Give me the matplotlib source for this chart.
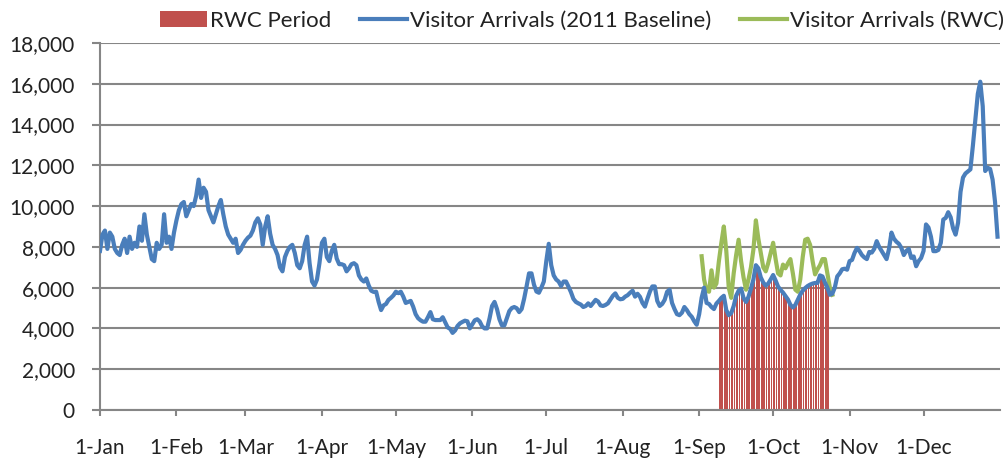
import matplotlib
matplotlib.use('Agg')
import matplotlib.pyplot as plt
from matplotlib.ticker import FuncFormatter
import numpy as np
import pandas as pd

plt.rcParams['font.family'] = ['Lato', 'DejaVu Sans']

# daily visitor arrivals, 2011 baseline (by month)
jan = [7800, 8600, 8800, 7900, 8700, 8500, 7900, 7700, 7600, 8100, 8400, 7700, 8500, 7900, 8200, 8000,
       9000, 8300, 9600, 8600, 8000, 7400, 7300, 8200, 7900, 8100, 9600, 8200, 8500, 7900, 8700]
feb = [9300, 9800, 10100, 10200, 9500, 9800, 10100, 10000, 10500, 11300, 10400, 10900, 10700, 9800,
       9500, 9200, 9600, 10000, 10300, 9600, 9000, 8600, 8400, 8200, 8400, 7700, 7850, 8100]
mar = [8300, 8450, 8550, 8800, 9200, 9400, 9100, 8100, 9000, 9500, 8650, 8100, 7900, 7600, 7000, 6800,
       7500, 7800, 8000, 8100, 7700, 7100, 6950, 7300, 8100, 8500, 7200, 6300, 6100, 6400, 7200]
apr = [8200, 8400, 7500, 7300, 7800, 8100, 7430, 7150, 7150, 7100, 6800, 6950, 7150, 7200, 7100,
       6600, 6400, 6300, 6450, 6100, 5850, 5790, 5800, 5300, 4900, 5130, 5200, 5400, 5500, 5620]
may = [5800, 5730, 5800, 5560, 5250, 5300, 5350, 5070, 4700, 4500, 4400, 4330, 4330, 4550, 4800, 4450,
       4410, 4410, 4410, 4550, 4300, 4050, 3980, 3780, 3900, 4120, 4250, 4320, 4380, 4350, 4000]
jun = [4200, 4400, 4450, 4340, 4100, 4000, 4000, 4500, 5100, 5300, 4950, 4450, 4150, 4150, 4500,
       4850, 5000, 5050, 4990, 4800, 4950, 5450, 6060, 6700, 6700, 6150, 5810, 5750, 6000, 6300]
jul = [7300, 8150, 7100, 6600, 6400, 6300, 6080, 6300, 6300, 6050, 5780, 5450, 5300, 5230, 5170, 5050,
       5100, 5230, 5100, 5250, 5400, 5320, 5130, 5100, 5150, 5230, 5420, 5600, 5720, 5500, 5430]
aug = [5450, 5560, 5630, 5750, 5850, 5560, 5700, 5550, 5250, 5070, 5450, 5800, 6060, 6060, 5350, 5100,
       5200, 5400, 5800, 5900, 5250, 4950, 4700, 4650, 4770, 5050, 4900, 4700, 4570, 4350, 4180]
sep = [4700, 5500, 6000, 5250, 5200, 5050, 4950, 5220, 5350, 5500, 5600, 4900, 4650, 4750, 5100,
       5600, 5850, 5950, 5490, 5300, 5550, 5950, 6400, 7100, 6950, 6500, 6250, 6100, 6200, 6400]
octo = [6620, 6350, 6050, 5890, 5760, 5590, 5420, 5160, 5030, 5150, 5400, 5660, 5850, 5980, 6080, 6150,
        6200, 6230, 6230, 6600, 6550, 6250, 6000, 5650, 5700, 6000, 6550, 6700, 6900, 6930, 6880]
nov = [7300, 7360, 7700, 7950, 7800, 7600, 7480, 7400, 7750, 7720, 7900, 8280, 8000, 7800, 7600,
       7400, 7900, 8700, 8400, 8250, 8150, 7950, 7600, 7800, 7900, 7460, 7530, 7050, 7300, 7450]
dec = [7800, 9100, 8950, 8500, 7790, 7790, 7850, 8200, 9340, 9420, 9700, 9450, 8900, 8600, 9180, 10700,
       11400, 11600, 11700, 11800, 12950, 14200, 15500, 16100, 14900, 11720, 11880, 11820, 11300, 10200, 8500]

# visitor arrivals with RWC, 2 Sep - 25 Oct
rwc = [7540, 6400, 5850, 5800, 6850, 6000, 6200, 7300, 8200, 9000, 7800, 6000, 5500, 6700, 7600, 8350,
       7300, 6500, 5900, 6400, 7000, 7870, 9300, 8400, 7700, 7000, 6800, 7200, 7700, 8200, 7400, 6700,
       6600, 7130, 6950, 7200, 7400, 6700, 5900, 5800, 6400, 7500, 8350, 8400, 8100, 7300, 6650, 6900,
       7100, 7400, 7400, 6700, 6000, 5650]
rwc_start = '2011-09-02'
period_start = '2011-09-09'
period_end = '2011-10-23'

baseline = jan + feb + mar + apr + may + jun + jul + aug + sep + octo + nov + dec
dates = pd.date_range('2011-01-01', periods=len(baseline), freq='D')
base_s = pd.Series(baseline, index=dates)
rwc_dates = pd.date_range(rwc_start, periods=len(rwc), freq='D')
bar_dates = pd.date_range(period_start, period_end, freq='D')
month_ticks = pd.date_range('2011-01-01', '2011-12-01', freq='MS')

fig = plt.figure(figsize=(10.04, 4.63), dpi=100)
ax = fig.add_axes([0.0996, 0.1145, 0.8964, 0.7927])

grey = '#868686'
ax.bar(bar_dates, base_s[bar_dates].values, width=0.7, align='edge', color='#C0504D',
       label='RWC Period', zorder=2)
ax.plot(rwc_dates, rwc, color='#9BBB59', lw=3, label='Visitor Arrivals (RWC)', zorder=3)
ax.plot(dates, baseline, color='#4A7EBB', lw=3, label='Visitor Arrivals (2011 Baseline)', zorder=4)

ax.set_ylim(0, 18000)
ax.set_yticks(np.arange(0, 18001, 2000))
ax.yaxis.set_major_formatter(FuncFormatter(lambda v, p: f'{v:,.0f}'))
ax.set_xlim(pd.Timestamp('2011-01-01'), pd.Timestamp('2012-01-01'))
ax.set_xticks(month_ticks)
ax.set_xticklabels([f'1-{d.strftime("%b")}' for d in month_ticks])

ax.grid(axis='y', color=grey, lw=1.5, zorder=0)
ax.set_axisbelow(True)
for s in ['top', 'right']:
    ax.spines[s].set_visible(False)
for s in ['left', 'bottom']:
    ax.spines[s].set_color(grey)
    ax.spines[s].set_linewidth(1.5)
ax.tick_params(axis='y', length=6, width=1.5, color=grey, labelsize=15, pad=12, labelcolor='#222222')
ax.tick_params(axis='x', length=4, width=1.5, color=grey, labelsize=15, pad=16, labelcolor='#222222')

h, l = ax.get_legend_handles_labels()
order = [l.index('RWC Period'), l.index('Visitor Arrivals (2011 Baseline)'), l.index('Visitor Arrivals (RWC)')]
fig.legend([h[i] for i in order], [l[i] for i in order], loc='center', bbox_to_anchor=(0.58, 0.955),
           ncol=3, frameon=False, fontsize=16, handlelength=2.1, handletextpad=0.15,
           columnspacing=1.3, labelcolor='#222222')

fig.savefig('out.png', dpi=100)
